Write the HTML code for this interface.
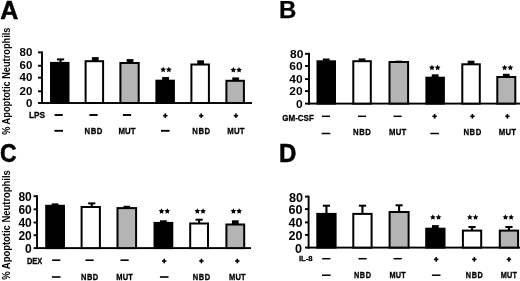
<!DOCTYPE html>
<html><head><meta charset="utf-8"><style>
html,body{margin:0;padding:0;background:#fff;}
body{width:520px;height:281px;overflow:hidden;font-family:"Liberation Sans",sans-serif;}
svg{display:block;filter:blur(0.4px)}
</style></head><body>
<svg width="520" height="281" viewBox="0 0 520 281">
<rect width="520" height="281" fill="#fff"/>
<text transform="translate(0.2,18.7) scale(1,1)" font-size="25" font-family="Liberation Sans, sans-serif" font-weight="bold" stroke="#000" stroke-width="0.5">A</text>
<rect x="41.05" y="51.449999999999996" width="1.9" height="52.5" fill="#000"/>
<rect x="41.05" y="102.05" width="210.95" height="1.9" fill="#000"/>
<rect x="38" y="51.449999999999996" width="4" height="1.9" fill="#000"/>
<text x="32.4" y="56.1" font-size="11.5" text-anchor="end" font-family="Liberation Sans, sans-serif" font-weight="bold" transform="translate(32.4,0) scale(1,1) translate(-32.4,0)">80</text>
<rect x="38" y="64.8" width="4" height="1.9" fill="#000"/>
<text x="32.4" y="69.45" font-size="11.5" text-anchor="end" font-family="Liberation Sans, sans-serif" font-weight="bold" transform="translate(32.4,0) scale(1,1) translate(-32.4,0)">60</text>
<rect x="38" y="76.7" width="4" height="1.9" fill="#000"/>
<text x="32.4" y="81.35000000000001" font-size="11.5" text-anchor="end" font-family="Liberation Sans, sans-serif" font-weight="bold" transform="translate(32.4,0) scale(1,1) translate(-32.4,0)">40</text>
<rect x="38" y="90.35" width="4" height="1.9" fill="#000"/>
<text x="32.4" y="95.0" font-size="11.5" text-anchor="end" font-family="Liberation Sans, sans-serif" font-weight="bold" transform="translate(32.4,0) scale(1,1) translate(-32.4,0)">20</text>
<rect x="38" y="102.05" width="4" height="1.9" fill="#000"/>
<text x="32.4" y="106.7" font-size="11.5" text-anchor="end" font-family="Liberation Sans, sans-serif" font-weight="bold" transform="translate(32.4,0) scale(1,1) translate(-32.4,0)">0</text>
<rect x="51.0" y="62.9" width="17.5" height="40.1" fill="#000" stroke="#000" stroke-width="2.0"/>
<rect x="59.5" y="59.3" width="2.1" height="3.1000000000000014" fill="#000"/>
<rect x="56.949999999999996" y="58.4" width="7.2" height="2.0" fill="#000"/>
<rect x="85.6" y="61.2" width="17.5" height="41.8" fill="#fff" stroke="#000" stroke-width="2.0"/>
<rect x="94.2" y="58" width="2.1" height="2.700000000000003" fill="#000"/>
<rect x="91.85000000000001" y="57.1" width="6.8" height="3.6000000000000028" fill="#000"/>
<rect x="120.4" y="63.0" width="18.3" height="40.0" fill="#b4b4b4" stroke="#000" stroke-width="2.0"/>
<rect x="129.0" y="60.0" width="2.1" height="2.5" fill="#000"/>
<rect x="126.65000000000002" y="59.1" width="6.8" height="3.4" fill="#000"/>
<rect x="156.4" y="80.7" width="17.5" height="22.299999999999997" fill="#000" stroke="#000" stroke-width="2.0"/>
<rect x="164.5" y="77.9" width="2.1" height="2.299999999999997" fill="#000"/>
<rect x="162.15" y="77.0" width="6.8" height="3.199999999999997" fill="#000"/>
<rect x="191.4" y="64.5" width="17.5" height="38.5" fill="#fff" stroke="#000" stroke-width="2.0"/>
<rect x="199.6" y="61.2" width="2.1" height="2.799999999999997" fill="#000"/>
<rect x="197.25" y="60.300000000000004" width="6.8" height="3.699999999999997" fill="#000"/>
<rect x="226.4" y="80.8" width="17.5" height="22.200000000000003" fill="#b4b4b4" stroke="#000" stroke-width="2.0"/>
<rect x="234.6" y="78.3" width="2.1" height="2.0" fill="#000"/>
<rect x="232.25" y="77.39999999999999" width="6.8" height="2.9" fill="#000"/>
<polygon points="163.15,66.75 164.03,68.54 166.00,68.82 164.58,70.21 164.91,72.18 163.15,71.25 161.39,72.18 161.72,70.21 160.30,68.82 162.27,68.54" fill="#000"/>
<polygon points="168.85,66.75 169.73,68.54 171.70,68.82 170.28,70.21 170.61,72.18 168.85,71.25 167.09,72.18 167.42,70.21 166.00,68.82 167.97,68.54" fill="#000"/>
<polygon points="233.35,67.05 234.23,68.84 236.20,69.12 234.78,70.51 235.11,72.48 233.35,71.55 231.59,72.48 231.92,70.51 230.50,69.12 232.47,68.84" fill="#000"/>
<polygon points="239.05,67.05 239.93,68.84 241.90,69.12 240.48,70.51 240.81,72.48 239.05,71.55 237.29,72.48 237.62,70.51 236.20,69.12 238.17,68.84" fill="#000"/>
<text transform="translate(29,117.94968399999999) scale(1.0,1.15)" font-size="8.3" font-family="Liberation Sans, sans-serif" font-weight="bold" stroke="#000" stroke-width="0.25">LPS</text>
<rect x="54.6" y="114.05" width="8.2" height="1.9" fill="#000"/>
<rect x="54.400000000000006" y="129.85000000000002" width="8.6" height="1.9" fill="#000"/>
<rect x="89.4" y="114.05" width="8.2" height="1.9" fill="#000"/>
<text transform="translate(93.775,133.94968400000002) scale(0.94,1.06)" font-size="8.3" text-anchor="middle" letter-spacing="0.55" font-family="Liberation Sans, sans-serif" font-weight="bold" stroke="#000" stroke-width="0.25">NBD</text>
<rect x="122.9" y="114.05" width="8.2" height="1.9" fill="#000"/>
<text transform="translate(127.1,133.94968400000002) scale(0.94,1.06)" font-size="8.3" text-anchor="middle" letter-spacing="0.2" font-family="Liberation Sans, sans-serif" font-weight="bold" stroke="#000" stroke-width="0.25">MUT</text>
<rect x="163.10000000000002" y="114.9" width="4.4" height="1.6" fill="#000"/>
<rect x="164.5" y="113.4" width="1.6" height="4.6" fill="#000"/>
<rect x="161.0" y="129.85000000000002" width="8.6" height="1.9" fill="#000"/>
<rect x="199.0" y="114.9" width="4.4" height="1.6" fill="#000"/>
<rect x="200.39999999999998" y="113.4" width="1.6" height="4.6" fill="#000"/>
<text transform="translate(201.475,133.94968400000002) scale(0.94,1.06)" font-size="8.3" text-anchor="middle" letter-spacing="0.55" font-family="Liberation Sans, sans-serif" font-weight="bold" stroke="#000" stroke-width="0.25">NBD</text>
<rect x="233.70000000000002" y="114.9" width="4.4" height="1.6" fill="#000"/>
<rect x="235.1" y="113.4" width="1.6" height="4.6" fill="#000"/>
<text transform="translate(236.0,133.94968400000002) scale(0.94,1.06)" font-size="8.3" text-anchor="middle" letter-spacing="0.2" font-family="Liberation Sans, sans-serif" font-weight="bold" stroke="#000" stroke-width="0.25">MUT</text>
<text transform="translate(9.5,81.2) rotate(-90) scale(0.905,1)" font-size="10.2" text-anchor="middle" font-family="Liberation Sans, sans-serif" font-weight="bold">% Apoptotic Neutrophils</text>
<text transform="translate(279,18.3) scale(1,1)" font-size="24" font-family="Liberation Sans, sans-serif" font-weight="bold" stroke="#000" stroke-width="0.25">B</text>
<rect x="308.05" y="52.849999999999994" width="1.9" height="51.699999999999996" fill="#000"/>
<rect x="308.05" y="102.64999999999999" width="211.95" height="1.9" fill="#000"/>
<rect x="305" y="52.849999999999994" width="4" height="1.9" fill="#000"/>
<text x="303.4" y="58.099999999999994" font-size="11.4" text-anchor="end" font-family="Liberation Sans, sans-serif" font-weight="bold" transform="translate(303.4,0) scale(1.05,1) translate(-303.4,0)">80</text>
<rect x="305" y="65.05" width="4" height="1.9" fill="#000"/>
<text x="302.59999999999997" y="70.3" font-size="11.4" text-anchor="end" font-family="Liberation Sans, sans-serif" font-weight="bold" transform="translate(302.59999999999997,0) scale(1.05,1) translate(-302.59999999999997,0)">60</text>
<rect x="305" y="78.14999999999999" width="4" height="1.9" fill="#000"/>
<text x="302.59999999999997" y="83.39999999999999" font-size="11.4" text-anchor="end" font-family="Liberation Sans, sans-serif" font-weight="bold" transform="translate(302.59999999999997,0) scale(1.05,1) translate(-302.59999999999997,0)">40</text>
<rect x="305" y="90.14999999999999" width="4" height="1.9" fill="#000"/>
<text x="302.59999999999997" y="95.39999999999999" font-size="11.4" text-anchor="end" font-family="Liberation Sans, sans-serif" font-weight="bold" transform="translate(302.59999999999997,0) scale(1.05,1) translate(-302.59999999999997,0)">20</text>
<rect x="305" y="102.64999999999999" width="4" height="1.9" fill="#000"/>
<text x="302.59999999999997" y="107.89999999999999" font-size="11.4" text-anchor="end" font-family="Liberation Sans, sans-serif" font-weight="bold" transform="translate(302.59999999999997,0) scale(1.05,1) translate(-302.59999999999997,0)">0</text>
<rect x="317.5" y="61.3" width="17.5" height="42.3" fill="#000" stroke="#000" stroke-width="2.0"/>
<rect x="325.2" y="59.4" width="2.1" height="1.3999999999999986" fill="#000"/>
<rect x="322.84999999999997" y="58.5" width="6.8" height="2.2999999999999985" fill="#000"/>
<rect x="353.3" y="61.2" width="17.5" height="42.39999999999999" fill="#fff" stroke="#000" stroke-width="2.0"/>
<rect x="361.0" y="59.3" width="2.1" height="1.4000000000000057" fill="#000"/>
<rect x="358.65" y="58.4" width="6.8" height="2.3000000000000056" fill="#000"/>
<rect x="389.5" y="62.0" width="18.6" height="41.599999999999994" fill="#b4b4b4" stroke="#000" stroke-width="2.0"/>
<rect x="397.75" y="61.6" width="2.1" height="-0.10000000000000142" fill="#000"/>
<rect x="395.4" y="60.7" width="6.8" height="0.7999999999999985" fill="#000"/>
<rect x="426.4" y="77.7" width="17.5" height="25.89999999999999" fill="#000" stroke="#000" stroke-width="2.0"/>
<rect x="434.09999999999997" y="75.2" width="2.1" height="2.0" fill="#000"/>
<rect x="431.74999999999994" y="74.3" width="6.8" height="2.9" fill="#000"/>
<rect x="462.3" y="64.3" width="17.5" height="39.3" fill="#fff" stroke="#000" stroke-width="2.0"/>
<rect x="470.0" y="61.6" width="2.1" height="2.1999999999999957" fill="#000"/>
<rect x="467.65" y="60.7" width="6.8" height="3.0999999999999956" fill="#000"/>
<rect x="497.3" y="77.0" width="18.0" height="26.599999999999994" fill="#b4b4b4" stroke="#000" stroke-width="2.0"/>
<rect x="505.25" y="74.7" width="2.1" height="1.7999999999999972" fill="#000"/>
<rect x="502.9" y="73.8" width="6.8" height="2.699999999999997" fill="#000"/>
<polygon points="431.95,64.75 432.83,66.54 434.80,66.82 433.38,68.21 433.71,70.18 431.95,69.25 430.19,70.18 430.52,68.21 429.10,66.82 431.07,66.54" fill="#000"/>
<polygon points="437.65,64.75 438.53,66.54 440.50,66.82 439.08,68.21 439.41,70.18 437.65,69.25 435.89,70.18 436.22,68.21 434.80,66.82 436.77,66.54" fill="#000"/>
<polygon points="504.65,64.75 505.53,66.54 507.50,66.82 506.08,68.21 506.41,70.18 504.65,69.25 502.89,70.18 503.22,68.21 501.80,66.82 503.77,66.54" fill="#000"/>
<polygon points="510.35,64.75 511.23,66.54 513.20,66.82 511.78,68.21 512.11,70.18 510.35,69.25 508.59,70.18 508.92,68.21 507.50,66.82 509.47,66.54" fill="#000"/>
<text transform="translate(282.3,121.4072) scale(1.0,1.08)" font-size="8" font-family="Liberation Sans, sans-serif" font-weight="bold" stroke="#000" stroke-width="0.25">GM-CSF</text>
<rect x="321.9" y="115.55" width="8.2" height="1.5" fill="#000"/>
<rect x="321.7" y="132.75" width="8.6" height="1.5" fill="#000"/>
<rect x="357.9" y="115.55" width="8.2" height="1.5" fill="#000"/>
<text transform="translate(362.275,135.40720000000002) scale(0.97,1.05)" font-size="8" text-anchor="middle" letter-spacing="0.55" font-family="Liberation Sans, sans-serif" font-weight="bold" stroke="#000" stroke-width="0.25">NBD</text>
<rect x="393.5" y="115.55" width="8.2" height="1.5" fill="#000"/>
<text transform="translate(397.70000000000005,135.40720000000002) scale(0.97,1.05)" font-size="8" text-anchor="middle" letter-spacing="0.2" font-family="Liberation Sans, sans-serif" font-weight="bold" stroke="#000" stroke-width="0.25">MUT</text>
<rect x="432.40000000000003" y="115.5" width="4.4" height="1.6" fill="#000"/>
<rect x="433.8" y="114.0" width="1.6" height="4.6" fill="#000"/>
<rect x="430.3" y="132.75" width="8.6" height="1.5" fill="#000"/>
<rect x="470.2" y="115.5" width="4.4" height="1.6" fill="#000"/>
<rect x="471.59999999999997" y="114.0" width="1.6" height="4.6" fill="#000"/>
<text transform="translate(472.67499999999995,135.40720000000002) scale(0.97,1.05)" font-size="8" text-anchor="middle" letter-spacing="0.55" font-family="Liberation Sans, sans-serif" font-weight="bold" stroke="#000" stroke-width="0.25">NBD</text>
<rect x="505.2" y="115.5" width="4.4" height="1.6" fill="#000"/>
<rect x="506.59999999999997" y="114.0" width="1.6" height="4.6" fill="#000"/>
<text transform="translate(507.5,135.40720000000002) scale(0.97,1.05)" font-size="8" text-anchor="middle" letter-spacing="0.2" font-family="Liberation Sans, sans-serif" font-weight="bold" stroke="#000" stroke-width="0.25">MUT</text>
<text transform="translate(0.1,161.7) scale(0.91,1)" font-size="25.2" font-family="Liberation Sans, sans-serif" font-weight="bold" stroke="#000" stroke-width="0.5">C</text>
<rect x="36.05" y="195.25" width="1.9" height="53.800000000000004" fill="#000"/>
<rect x="36.05" y="247.15" width="214.95" height="1.9" fill="#000"/>
<rect x="33.6" y="195.25" width="3.4" height="1.9" fill="#000"/>
<text x="31.799999999999997" y="200.85" font-size="12" text-anchor="end" font-family="Liberation Sans, sans-serif" font-weight="bold" transform="translate(31.799999999999997,0) scale(1.0,1) translate(-31.799999999999997,0)">80</text>
<rect x="33.6" y="208.35000000000002" width="3.4" height="1.9" fill="#000"/>
<text x="31.799999999999997" y="213.95000000000002" font-size="12" text-anchor="end" font-family="Liberation Sans, sans-serif" font-weight="bold" transform="translate(31.799999999999997,0) scale(1.0,1) translate(-31.799999999999997,0)">60</text>
<rect x="33.6" y="221.55" width="3.4" height="1.9" fill="#000"/>
<text x="31.799999999999997" y="227.15" font-size="12" text-anchor="end" font-family="Liberation Sans, sans-serif" font-weight="bold" transform="translate(31.799999999999997,0) scale(1.0,1) translate(-31.799999999999997,0)">40</text>
<rect x="33.6" y="234.25" width="3.4" height="1.9" fill="#000"/>
<text x="31.799999999999997" y="239.85" font-size="12" text-anchor="end" font-family="Liberation Sans, sans-serif" font-weight="bold" transform="translate(31.799999999999997,0) scale(1.0,1) translate(-31.799999999999997,0)">20</text>
<rect x="33.6" y="247.15" width="3.4" height="1.9" fill="#000"/>
<text x="31.799999999999997" y="252.75" font-size="12" text-anchor="end" font-family="Liberation Sans, sans-serif" font-weight="bold" transform="translate(31.799999999999997,0) scale(1.0,1) translate(-31.799999999999997,0)">0</text>
<rect x="46.2" y="205.8" width="17.8" height="42.29999999999998" fill="#000" stroke="#000" stroke-width="2.0"/>
<rect x="54.050000000000004" y="204.3" width="2.1" height="1.0" fill="#000"/>
<rect x="51.7" y="203.4" width="6.8" height="1.9" fill="#000"/>
<rect x="81.6" y="207.0" width="18.3" height="41.099999999999994" fill="#fff" stroke="#000" stroke-width="2.0"/>
<rect x="90.7" y="203.3" width="2.1" height="3.1999999999999886" fill="#000"/>
<rect x="88.15" y="202.4" width="7.2" height="2.0" fill="#000"/>
<rect x="117.5" y="208.1" width="18.6" height="40.0" fill="#b4b4b4" stroke="#000" stroke-width="2.0"/>
<rect x="125.75" y="206.7" width="2.1" height="0.9000000000000057" fill="#000"/>
<rect x="123.4" y="205.79999999999998" width="6.8" height="1.8000000000000056" fill="#000"/>
<rect x="154.5" y="222.9" width="17.8" height="25.19999999999999" fill="#000" stroke="#000" stroke-width="2.0"/>
<rect x="162.35" y="221.2" width="2.1" height="1.200000000000017" fill="#000"/>
<rect x="160.0" y="220.29999999999998" width="6.8" height="2.100000000000017" fill="#000"/>
<rect x="190.2" y="223.5" width="17.8" height="24.599999999999994" fill="#fff" stroke="#000" stroke-width="2.0"/>
<rect x="198.04999999999998" y="219.6" width="2.1" height="3.4000000000000057" fill="#000"/>
<rect x="195.5" y="218.7" width="7.2" height="2.0" fill="#000"/>
<rect x="226.4" y="224.5" width="17.8" height="23.599999999999994" fill="#b4b4b4" stroke="#000" stroke-width="2.0"/>
<rect x="234.25" y="221.2" width="2.1" height="2.8000000000000114" fill="#000"/>
<rect x="231.9" y="220.29999999999998" width="6.8" height="3.7000000000000113" fill="#000"/>
<polygon points="161.55,208.25 162.43,210.04 164.40,210.32 162.98,211.71 163.31,213.68 161.55,212.75 159.79,213.68 160.12,211.71 158.70,210.32 160.67,210.04" fill="#000"/>
<polygon points="167.25,208.25 168.13,210.04 170.10,210.32 168.68,211.71 169.01,213.68 167.25,212.75 165.49,213.68 165.82,211.71 164.40,210.32 166.37,210.04" fill="#000"/>
<polygon points="197.35,208.25 198.23,210.04 200.20,210.32 198.78,211.71 199.11,213.68 197.35,212.75 195.59,213.68 195.92,211.71 194.50,210.32 196.47,210.04" fill="#000"/>
<polygon points="203.05,208.25 203.93,210.04 205.90,210.32 204.48,211.71 204.81,213.68 203.05,212.75 201.29,213.68 201.62,211.71 200.20,210.32 202.17,210.04" fill="#000"/>
<polygon points="233.45,208.25 234.33,210.04 236.30,210.32 234.88,211.71 235.21,213.68 233.45,212.75 231.69,213.68 232.02,211.71 230.60,210.32 232.57,210.04" fill="#000"/>
<polygon points="239.15,208.25 240.03,210.04 242.00,210.32 240.58,211.71 240.91,213.68 239.15,212.75 237.39,213.68 237.72,211.71 236.30,210.32 238.27,210.04" fill="#000"/>
<text transform="translate(26.9,264.4936) scale(0.93,1.15)" font-size="8" font-family="Liberation Sans, sans-serif" font-weight="bold" stroke="#000" stroke-width="0.25">DEX</text>
<rect x="52.1" y="259.4" width="8.2" height="1.6" fill="#000"/>
<rect x="51.900000000000006" y="276.2" width="8.6" height="1.6" fill="#000"/>
<rect x="85.5" y="259.4" width="8.2" height="1.6" fill="#000"/>
<text transform="translate(89.875,279.6936) scale(0.94,1.15)" font-size="8" text-anchor="middle" letter-spacing="0.55" font-family="Liberation Sans, sans-serif" font-weight="bold" stroke="#000" stroke-width="0.25">NBD</text>
<rect x="120.5" y="259.4" width="8.2" height="1.6" fill="#000"/>
<text transform="translate(124.69999999999999,279.6936) scale(0.94,1.15)" font-size="8" text-anchor="middle" letter-spacing="0.2" font-family="Liberation Sans, sans-serif" font-weight="bold" stroke="#000" stroke-width="0.25">MUT</text>
<rect x="162.0" y="260.2" width="4.4" height="1.6" fill="#000"/>
<rect x="163.39999999999998" y="258.7" width="1.6" height="4.6" fill="#000"/>
<rect x="159.89999999999998" y="276.2" width="8.6" height="1.6" fill="#000"/>
<rect x="199.20000000000002" y="260.2" width="4.4" height="1.6" fill="#000"/>
<rect x="200.6" y="258.7" width="1.6" height="4.6" fill="#000"/>
<text transform="translate(201.675,279.6936) scale(0.94,1.15)" font-size="8" text-anchor="middle" letter-spacing="0.55" font-family="Liberation Sans, sans-serif" font-weight="bold" stroke="#000" stroke-width="0.25">NBD</text>
<rect x="235.10000000000002" y="260.2" width="4.4" height="1.6" fill="#000"/>
<rect x="236.5" y="258.7" width="1.6" height="4.6" fill="#000"/>
<text transform="translate(237.4,279.6936) scale(0.94,1.15)" font-size="8" text-anchor="middle" letter-spacing="0.2" font-family="Liberation Sans, sans-serif" font-weight="bold" stroke="#000" stroke-width="0.25">MUT</text>
<text transform="translate(9.5,225.0) rotate(-90) scale(0.925,1)" font-size="10.2" text-anchor="middle" font-family="Liberation Sans, sans-serif" font-weight="bold">% Apoptotic Neutrophils</text>
<text transform="translate(279.1,161.5) scale(0.96,1)" font-size="25" font-family="Liberation Sans, sans-serif" font-weight="bold" stroke="#000" stroke-width="0.5">D</text>
<rect x="307.65000000000003" y="195.65" width="1.9" height="52.9" fill="#000"/>
<rect x="307.65000000000003" y="246.65" width="212.34999999999997" height="1.9" fill="#000"/>
<rect x="305.0" y="195.65" width="3.6" height="1.9" fill="#000"/>
<text x="303.0" y="201.6" font-size="12" text-anchor="end" font-family="Liberation Sans, sans-serif" font-weight="bold" transform="translate(303.0,0) scale(1.05,1) translate(-303.0,0)">80</text>
<rect x="305.0" y="208.15" width="3.6" height="1.9" fill="#000"/>
<text x="302.59999999999997" y="214.1" font-size="12" text-anchor="end" font-family="Liberation Sans, sans-serif" font-weight="bold" transform="translate(302.59999999999997,0) scale(1.05,1) translate(-302.59999999999997,0)">60</text>
<rect x="305.0" y="221.45000000000002" width="3.6" height="1.9" fill="#000"/>
<text x="302.59999999999997" y="227.4" font-size="12" text-anchor="end" font-family="Liberation Sans, sans-serif" font-weight="bold" transform="translate(302.59999999999997,0) scale(1.05,1) translate(-302.59999999999997,0)">40</text>
<rect x="305.0" y="233.95000000000002" width="3.6" height="1.9" fill="#000"/>
<text x="302.4" y="239.9" font-size="12" text-anchor="end" font-family="Liberation Sans, sans-serif" font-weight="bold" transform="translate(302.4,0) scale(1.05,1) translate(-302.4,0)">20</text>
<rect x="305.0" y="246.65" width="3.6" height="1.9" fill="#000"/>
<text x="302.0" y="252.6" font-size="12" text-anchor="end" font-family="Liberation Sans, sans-serif" font-weight="bold" transform="translate(302.0,0) scale(1.05,1) translate(-302.0,0)">0</text>
<rect x="317.3" y="213.9" width="18.3" height="33.69999999999999" fill="#000" stroke="#000" stroke-width="2.0"/>
<rect x="325.4" y="205.6" width="2.1" height="7.800000000000011" fill="#000"/>
<rect x="322.84999999999997" y="204.7" width="7.2" height="2.0" fill="#000"/>
<rect x="353.3" y="213.9" width="18.3" height="33.69999999999999" fill="#fff" stroke="#000" stroke-width="2.0"/>
<rect x="361.4" y="205.6" width="2.1" height="7.800000000000011" fill="#000"/>
<rect x="358.84999999999997" y="204.7" width="7.2" height="2.0" fill="#000"/>
<rect x="389.6" y="212.0" width="19.0" height="35.599999999999994" fill="#b4b4b4" stroke="#000" stroke-width="2.0"/>
<rect x="398.05" y="205.2" width="2.1" height="6.300000000000011" fill="#000"/>
<rect x="395.5" y="204.29999999999998" width="7.2" height="2.0" fill="#000"/>
<rect x="426.2" y="228.7" width="18.3" height="18.900000000000006" fill="#000" stroke="#000" stroke-width="2.0"/>
<rect x="434.29999999999995" y="226" width="2.1" height="2.1999999999999886" fill="#000"/>
<rect x="431.94999999999993" y="225.1" width="6.8" height="3.0999999999999885" fill="#000"/>
<rect x="462.9" y="230.6" width="18.3" height="17.0" fill="#fff" stroke="#000" stroke-width="2.0"/>
<rect x="470.99999999999994" y="226.9" width="2.1" height="3.1999999999999886" fill="#000"/>
<rect x="468.44999999999993" y="226.0" width="7.2" height="2.0" fill="#000"/>
<rect x="499.8" y="230.6" width="18.3" height="17.0" fill="#b4b4b4" stroke="#000" stroke-width="2.0"/>
<rect x="507.9" y="226.9" width="2.1" height="3.1999999999999886" fill="#000"/>
<rect x="505.34999999999997" y="226.0" width="7.2" height="2.0" fill="#000"/>
<polygon points="432.85,214.35 433.73,216.14 435.70,216.42 434.28,217.81 434.61,219.78 432.85,218.85 431.09,219.78 431.42,217.81 430.00,216.42 431.97,216.14" fill="#000"/>
<polygon points="438.55,214.35 439.43,216.14 441.40,216.42 439.98,217.81 440.31,219.78 438.55,218.85 436.79,219.78 437.12,217.81 435.70,216.42 437.67,216.14" fill="#000"/>
<polygon points="469.85,214.35 470.73,216.14 472.70,216.42 471.28,217.81 471.61,219.78 469.85,218.85 468.09,219.78 468.42,217.81 467.00,216.42 468.97,216.14" fill="#000"/>
<polygon points="475.55,214.35 476.43,216.14 478.40,216.42 476.98,217.81 477.31,219.78 475.55,218.85 473.79,219.78 474.12,217.81 472.70,216.42 474.67,216.14" fill="#000"/>
<polygon points="505.45,214.35 506.33,216.14 508.30,216.42 506.88,217.81 507.21,219.78 505.45,218.85 503.69,219.78 504.02,217.81 502.60,216.42 504.57,216.14" fill="#000"/>
<polygon points="511.15,214.35 512.03,216.14 514.00,216.42 512.58,217.81 512.91,219.78 511.15,218.85 509.39,219.78 509.72,217.81 508.30,216.42 510.27,216.14" fill="#000"/>
<text transform="translate(298.9,261.40540999999996) scale(1.05,1.0)" font-size="7.3" font-family="Liberation Sans, sans-serif" font-weight="bold" stroke="#000" stroke-width="0.25">IL-8</text>
<rect x="322.2" y="257.95" width="8.2" height="1.5" fill="#000"/>
<rect x="322.0" y="274.45" width="8.6" height="1.5" fill="#000"/>
<rect x="358.4" y="257.95" width="8.2" height="1.5" fill="#000"/>
<text transform="translate(362.775,277.61125999999996) scale(0.94,1.15)" font-size="7.8" text-anchor="middle" letter-spacing="0.55" font-family="Liberation Sans, sans-serif" font-weight="bold" stroke="#000" stroke-width="0.25">NBD</text>
<rect x="393.59999999999997" y="257.95" width="8.2" height="1.5" fill="#000"/>
<text transform="translate(397.8,277.61125999999996) scale(0.94,1.15)" font-size="7.8" text-anchor="middle" letter-spacing="0.2" font-family="Liberation Sans, sans-serif" font-weight="bold" stroke="#000" stroke-width="0.25">MUT</text>
<rect x="434.0" y="258.59999999999997" width="4.4" height="1.6" fill="#000"/>
<rect x="435.4" y="257.09999999999997" width="1.6" height="4.6" fill="#000"/>
<rect x="431.9" y="274.45" width="8.6" height="1.5" fill="#000"/>
<rect x="472.1" y="258.59999999999997" width="4.4" height="1.6" fill="#000"/>
<rect x="473.5" y="257.09999999999997" width="1.6" height="4.6" fill="#000"/>
<text transform="translate(474.575,277.61125999999996) scale(0.94,1.15)" font-size="7.8" text-anchor="middle" letter-spacing="0.55" font-family="Liberation Sans, sans-serif" font-weight="bold" stroke="#000" stroke-width="0.25">NBD</text>
<rect x="506.7" y="258.59999999999997" width="4.4" height="1.6" fill="#000"/>
<rect x="508.09999999999997" y="257.09999999999997" width="1.6" height="4.6" fill="#000"/>
<text transform="translate(509.0,277.61125999999996) scale(0.94,1.15)" font-size="7.8" text-anchor="middle" letter-spacing="0.2" font-family="Liberation Sans, sans-serif" font-weight="bold" stroke="#000" stroke-width="0.25">MUT</text>
</svg>
</body></html>
